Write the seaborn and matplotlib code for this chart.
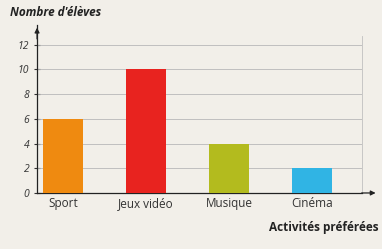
import matplotlib
matplotlib.use("Agg")
import matplotlib.pyplot as plt
import seaborn as sns
import pandas as pd

categories = ["Sport", "Jeux vidéo", "Musique", "Cinéma"]
values = [6, 10, 4, 2]
colors = ["#ef8a10", "#e8231f", "#b3bb1e", "#30b4e4"]
yticks = [0, 2, 4, 6, 8, 10, 12]

sns.set_style("white")
plt.rcParams["font.family"] = ["Open Sans", "DejaVu Sans"]

bg = "#f2efe9"
fig = plt.figure(figsize=(3.82, 2.49), dpi=100, facecolor=bg)
ax = fig.add_axes([0.097, 0.225, 0.851, 0.675], facecolor=bg)

df = pd.DataFrame({"Activité": categories, "Nombre": values})
sns.barplot(data=df, x="Activité", y="Nombre", hue="Activité",
            palette=colors, legend=False, width=0.48, saturation=1,
            linewidth=0, ax=ax, zorder=3)

ax.set_xlim(-0.31, 3.6)
ax.set_ylim(0, 13.6)
ax.set_yticks(yticks)
ax.set_yticklabels([str(v) for v in yticks], fontstyle="italic", fontsize=7.5, color="#333333")
ax.set_xticks(range(len(categories)))
ax.set_xticklabels(categories, fontsize=8.5, color="#333333")
ax.tick_params(axis="y", direction="inout", length=5, width=0.8, color="#333333", pad=3, left=True)
ax.tick_params(axis="x", length=0, pad=3)

for v in yticks[1:]:
    ax.axhline(v, color="#b8b8b8", lw=0.6, zorder=1)

ax.set_xlabel("")
ax.set_ylabel("")
ax.spines["top"].set_visible(False)
ax.spines["right"].set_color("#c0c0c0")
ax.spines["right"].set_linewidth(0.6)
ax.spines["right"].set_bounds(0, 12.7)
ax.spines["left"].set_color("#222222")
ax.spines["left"].set_linewidth(0.9)
ax.spines["bottom"].set_color("#222222")
ax.spines["bottom"].set_linewidth(0.9)

# arrows
ax.annotate("", xy=(0, 1.0), xytext=(0, 0.9), xycoords="axes fraction",
            arrowprops=dict(arrowstyle="-|>", color="#222222", lw=0.9,
                            mutation_scale=7), annotation_clip=False)
ax.annotate("", xy=(1.05, 0), xytext=(0.99, 0), xycoords="axes fraction",
            arrowprops=dict(arrowstyle="-|>", color="#222222", lw=0.9,
                            mutation_scale=7), annotation_clip=False)

fig.text(0.025, 0.95, "Nombre d'élèves", fontsize=8.5, fontweight="bold",
         fontstyle="italic", color="#222222", ha="left", va="center")
fig.text(0.99, 0.085, "Activités préférées", fontsize=8.5, fontweight="bold",
         color="#222222", ha="right", va="center")

fig.savefig("out.png", dpi=100, facecolor=bg)
